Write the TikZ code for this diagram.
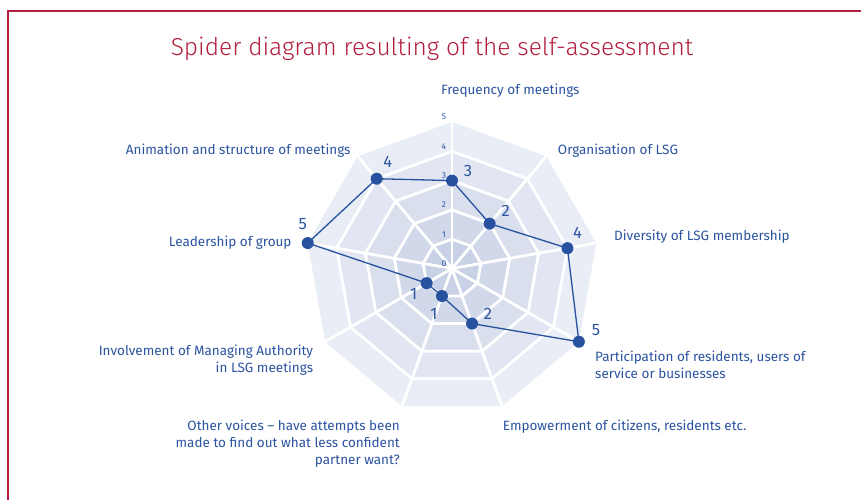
\documentclass[tikz,border=0pt]{standalone}
\usepackage{fontspec}
\setmainfont{Fira Sans}
\newfontfamily\titlefont{Fira Sans Light}
\definecolor{tblue}{RGB}{44,84,160}
\definecolor{dblue}{RGB}{40,82,160}
\definecolor{crim}{RGB}{178,32,62}
\definecolor{rfive}{RGB}{233,237,246}
\definecolor{rfour}{RGB}{225,230,242}
\definecolor{rthree}{RGB}{217,223,237}
\definecolor{rtwo}{RGB}{209,216,233}
\definecolor{rone}{RGB}{200,209,229}
\begin{document}
\begin{tikzpicture}[x=1pt,y=-1pt,
  axlabel/.style={text=tblue,font=\fontsize{13.5}{17}\selectfont,inner sep=0pt},
  vallabel/.style={text=tblue,font=\fontsize{16.5}{17}\selectfont,inner sep=0pt},
  lvl/.style={text=tblue,font=\fontsize{8.5}{9}\selectfont,inner sep=0pt},
  dot/.style={circle,fill=dblue,minimum size=12pt,inner sep=0pt},
  gridline/.style={white,line width=2.8pt},
  dataline/.style={dblue,line width=1.3pt}]
\useasboundingbox (0,0) rectangle (861,500);
\fill[white] (0,0) rectangle (861,500);
\draw[crim,line width=2.4pt] (8,500) -- (8,11) -- (861,11);
\node[text=crim,font=\titlefont\fontsize{24.5}{25}\selectfont,anchor=base] (title) at (432,56) {Spider diagram resulting of the self-assessment};
\begin{scope}[shift={(452,268.5)},y=1pt]
  \def\u{29.3}
  \foreach \lev/\col in {5/rfive,4/rfour,3/rthree,2/rtwo,1/rone}{
    \fill[\col] (90:{\lev*\u}) \foreach \k in {1,...,8}{ -- ({90-40*\k}:{\lev*\u})} -- cycle;
  }
  \foreach \lev in {1,...,4}{
    \draw[gridline] (90:{\lev*\u}) \foreach \k in {1,...,8}{ -- ({90-40*\k}:{\lev*\u})} -- cycle;
  }
  \coordinate (c) at (0,0);
  \foreach \k in {0,...,8}{
    \coordinate (a\k) at ({90-40*\k}:{5*\u});
    \draw[gridline] (c) -- (a\k);
  }
  \foreach \lev in {0,...,5}{
    \node[lvl] (l\lev) at (-8,{\lev*\u+5}) {\lev};
  }
  \coordinate (p0) at (90:{3*\u});
  \coordinate (p1) at (50:{2*\u});
  \coordinate (p2) at (10:{4*\u});
  \coordinate (p3) at (-30:{5*\u});
  \coordinate (p4) at (-70:{2*\u});
  \coordinate (p5) at (-110:{1*\u});
  \coordinate (p6) at (-150:{1*\u});
  \coordinate (p7) at (-190:{5*\u});
  \coordinate (p8) at (-230:{4*\u});
  \draw[dataline] (p0) -- (p1) -- (p2) -- (p3) -- (p4) -- (p5) -- (p6) -- (p7) -- (p8) -- cycle;
  \foreach \k in {0,...,8}{ \node[dot] (d\k) at (p\k) {}; }
  \node[vallabel] (v0) at ([shift={(16,10)}]p0) {3};
  \node[vallabel] (v1) at ([shift={(16,12.7)}]p1) {2};
  \node[vallabel] (v2) at ([shift={(10,15.6)}]p2) {4};
  \node[vallabel] (v3) at ([shift={(17,12)}]p3) {5};
  \node[vallabel] (v4) at ([shift={(16,10)}]p4) {2};
  \node[vallabel] (v5) at ([shift={(-8,-18)}]p5) {1};
  \node[vallabel] (v6) at ([shift={(-13,-11)}]p6) {1};
  \node[vallabel] (v7) at ([shift={(-5,19)}]p7) {5};
  \node[vallabel] (v8) at ([shift={(11,17)}]p8) {4};
\end{scope}
\node[axlabel,anchor=west] (t0) at (441,91) {Frequency of meetings};
\node[axlabel,anchor=west] (t1) at (557.7,150.3) {Organisation of LSG};
\node[axlabel,anchor=west] (t2) at (614,236.7) {Diversity of LSG membership};
\node[axlabel,anchor=west,align=left] (t3) at (595,365.3) {Participation of residents, users of\\service or businesses};
\node[axlabel,anchor=west] (t4) at (502.7,426.7) {Empowerment of citizens, residents etc.};
\node[axlabel,anchor=east,align=right] (t5) at (400,443.7) {Other voices -- have attempts been\\made to find out what less confident\\partner want?};
\node[axlabel,anchor=east,align=right] (t6) at (313.3,360) {Involvement of Managing Authority\\in LSG meetings};
\node[axlabel,anchor=east] (t7) at (291.7,242.7) {Leadership of group};
\node[axlabel,anchor=east] (t8) at (350.7,150.7) {Animation and structure of meetings};
\end{tikzpicture}
\end{document}
